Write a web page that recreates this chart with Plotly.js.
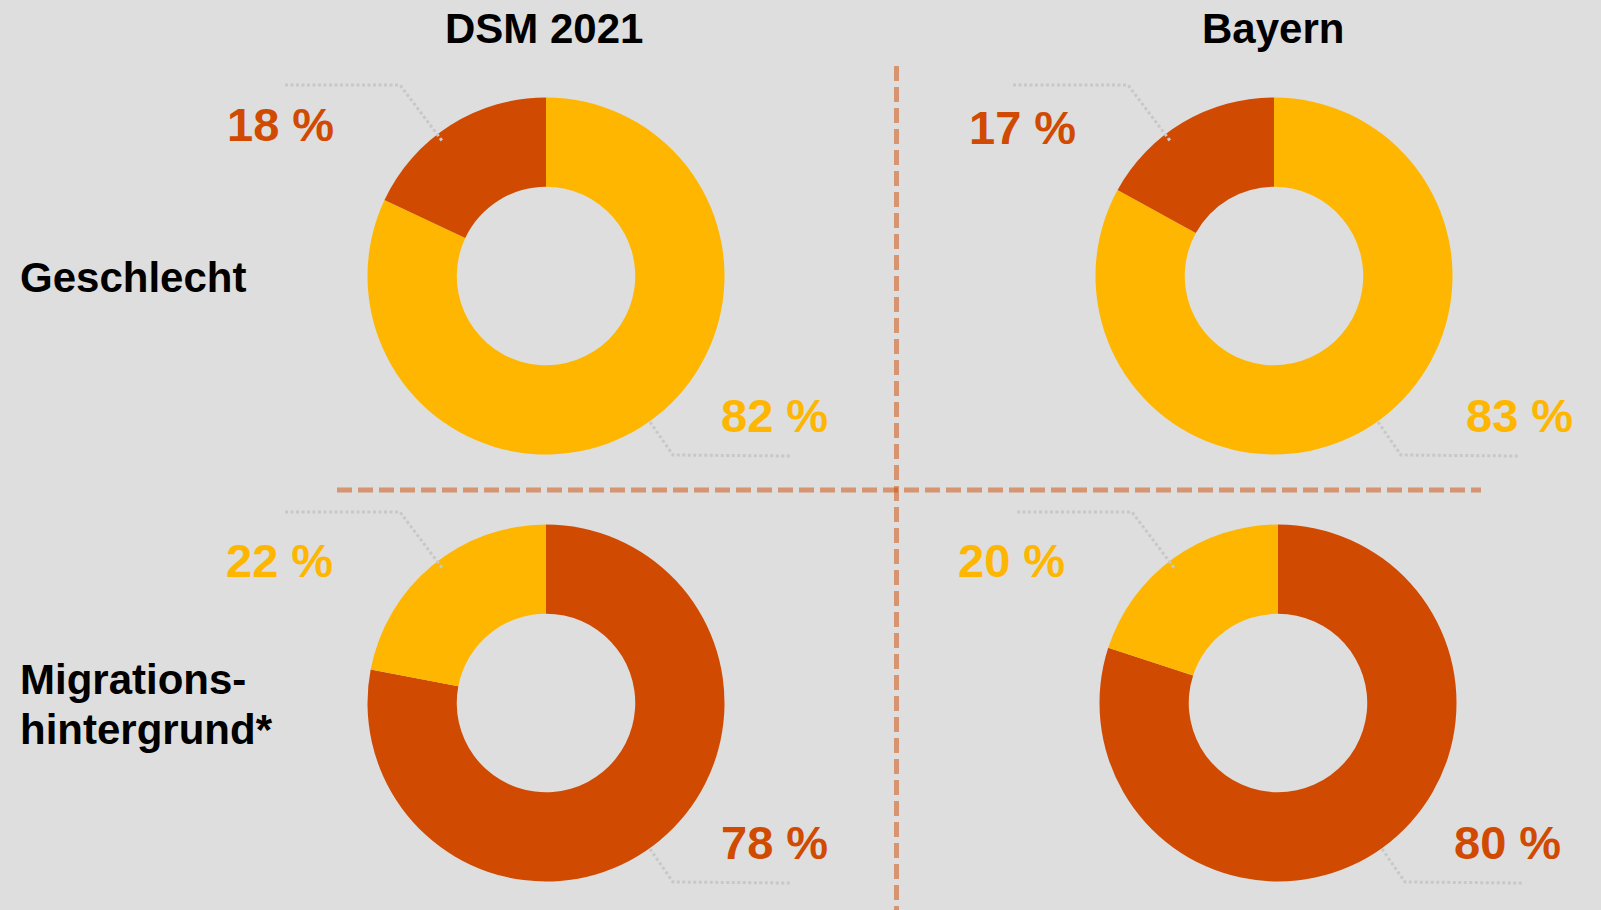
<!DOCTYPE html>
<html><head><meta charset="utf-8">
<script src="https://cdn.plot.ly/plotly-3.0.1.min.js"></script>
<style>html,body{margin:0;padding:0;background:#dedede;} #chart{width:1601px;height:910px;}</style>
</head><body><div id="chart"></div>
<script>
// ---- data ----
const columnTitles = ['DSM 2021', 'Bayern'];
const rowTitleLines = [['Geschlecht'], ['Migrations-', 'hintergrund*']];
const geschlechtLabels = ['männlich', 'weiblich'];
const migrationLabels = ['ohne Migrationshintergrund', 'mit Migrationshintergrund'];
const geschlechtDSM = [82, 18];
const geschlechtBayern = [83, 17];
const migrationDSM = [78, 22];
const migrationBayern = [80, 20];

// ---- styles / layout ----
const W = 1601, H = 910;
const YELLOW = '#FFB600', ORANGE = '#D04A02';
const FONT = 'Liberation Sans, Arial, Helvetica, sans-serif';
const px = x => x / W;
const py = y => 1 - y / H;

const pies = [
  {values: geschlechtDSM, labels: geschlechtLabels, colors: [YELLOW, ORANGE], cx: 546, cy: 276, r: 178.5, small: [-266, -151], big: [228, 140]},
  {values: geschlechtBayern, labels: geschlechtLabels, colors: [YELLOW, ORANGE], cx: 1274, cy: 276, r: 178.5, small: [-251, -148], big: [245, 140]},
  {values: migrationDSM, labels: migrationLabels, colors: [ORANGE, YELLOW], cx: 546, cy: 703, r: 178.5, small: [-267, -143], big: [228, 139]},
  {values: migrationBayern, labels: migrationLabels, colors: [ORANGE, YELLOW], cx: 1278, cy: 703, r: 178.5, small: [-267, -143], big: [229, 139]}
];

const traces = pies.map(p => ({
  type: 'pie',
  values: p.values,
  labels: p.labels,
  marker: {colors: p.colors, line: {width: 0}},
  hole: 0.5,
  sort: false,
  direction: 'clockwise',
  rotation: 0,
  textinfo: 'none',
  hoverinfo: 'label+percent',
  showlegend: false,
  domain: {x: [px(p.cx - p.r), px(p.cx + p.r)], y: [py(p.cy + p.r), py(p.cy - p.r)]}
}));

const annotations = [];
const colX = [544, 1273];
columnTitles.forEach((t, i) => annotations.push({
  text: t, x: px(colX[i]), y: py(28), xref: 'paper', yref: 'paper',
  xanchor: 'center', yanchor: 'middle', showarrow: false,
  font: {family: FONT, size: 42, color: '#000', weight: 700}
}));
const rowY = [[277], [679, 729]];
rowTitleLines.forEach((lines, i) => lines.forEach((t, j) => annotations.push({
  text: t, x: px(18), y: py(rowY[i][j]), xref: 'paper', yref: 'paper',
  xanchor: 'left', yanchor: 'middle', showarrow: false,
  font: {family: FONT, size: 42, color: '#000', weight: 700}
})));
pies.forEach(p => {
  annotations.push({
    text: p.values[1] + ' %', x: px(p.cx + p.small[0]), y: py(p.cy + p.small[1]),
    xref: 'paper', yref: 'paper', xanchor: 'center', yanchor: 'middle', showarrow: false,
    font: {family: FONT, size: 47, color: p.colors[1], weight: 700}
  });
  annotations.push({
    text: p.values[0] + ' %', x: px(p.cx + p.big[0]), y: py(p.cy + p.big[1]),
    xref: 'paper', yref: 'paper', xanchor: 'center', yanchor: 'middle', showarrow: false,
    font: {family: FONT, size: 47, color: p.colors[0], weight: 700}
  });
});

const pathOf = pts => pts.map((q, i) => (i ? 'L' : 'M') + px(q[0]).toFixed(5) + ',' + py(q[1]).toFixed(5)).join(' ');
const shapes = [];
const dashLine = {color: 'rgba(208,74,2,0.5)', width: 5, dash: '15px,6px'};
shapes.push({type: 'line', xref: 'paper', yref: 'paper', x0: px(896.5), x1: px(896.5), y0: py(66), y1: py(910), line: dashLine});
shapes.push({type: 'line', xref: 'paper', yref: 'paper', x0: px(337), x1: px(1481), y0: py(490), y1: py(490), line: dashLine});
const leader = {color: '#c8c8c8', width: 3, dash: '3px,2.5px'};
pies.forEach(p => {
  shapes.push({type: 'path', xref: 'paper', yref: 'paper', layer: 'above', line: leader,
    path: pathOf([[p.cx - 261, p.cy - 191], [p.cx - 146, p.cy - 191], [p.cx - 103, p.cy - 134]])});
  shapes.push({type: 'path', xref: 'paper', yref: 'paper', layer: 'above', line: leader,
    path: pathOf([[p.cx + 104, p.cy + 146], [p.cx + 127, p.cy + 179], [p.cx + 244, p.cy + 180]])});
});

const layout = {
  width: W, height: H,
  margin: {l: 0, r: 0, t: 0, b: 0},
  paper_bgcolor: '#dedede', plot_bgcolor: '#dedede',
  showlegend: false,
  annotations: annotations,
  shapes: shapes,
  font: {family: FONT}
};
Plotly.newPlot('chart', traces, layout, {displayModeBar: false, staticPlot: false});
</script></body></html>
